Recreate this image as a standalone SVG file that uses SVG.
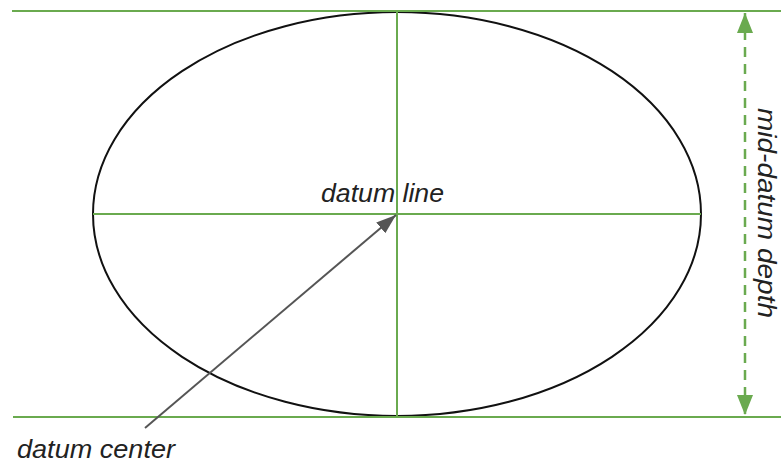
<svg xmlns="http://www.w3.org/2000/svg" width="781" height="463" viewBox="0 0 781 463">
<style>
.g{stroke:#6aaa4f;stroke-width:2;fill:none}
.t{font-family:"Liberation Sans",Arial,sans-serif;font-style:italic;font-size:26px;fill:#222}
</style>
<defs>
<marker id="ga" viewBox="0 0 20 16" refX="20" refY="8" markerWidth="20" markerHeight="16" markerUnits="userSpaceOnUse" orient="auto-start-reverse"><path d="M0,0 L20,8 L0,16 z" fill="#6aaa4f"/></marker>
<marker id="ka" viewBox="0 0 20 14" refX="20" refY="7" markerWidth="20" markerHeight="14" markerUnits="userSpaceOnUse" orient="auto"><path d="M0,0 L20,7 L0,14 z" fill="#555"/></marker>
</defs>
<g id="ellipse"><ellipse cx="397" cy="214" rx="304" ry="202" fill="none" stroke="#111" stroke-width="2"/></g>
<g id="guides">
<line class="g" x1="12" y1="11" x2="781" y2="11"/>
<line class="g" x1="13" y1="417" x2="781" y2="417"/>
<line class="g" x1="397" y1="12" x2="397" y2="416"/>
<line class="g" x1="93" y1="214" x2="701" y2="214"/>
</g>
<g id="connectors">
<line x1="745" y1="13" x2="745" y2="415" stroke="#6aaa4f" stroke-width="2.5" stroke-dasharray="10,7" marker-start="url(#ga)" marker-end="url(#ga)"/>
<line x1="145" y1="428" x2="396" y2="215" stroke="#555" stroke-width="2" marker-end="url(#ka)"/>
</g>
<g id="labels">
<text class="t" x="321" y="202" textLength="123" lengthAdjust="spacingAndGlyphs">datum line</text>
<text class="t" x="17" y="458" textLength="158" lengthAdjust="spacingAndGlyphs">datum center</text>
<text class="t" style="font-size:25px" transform="translate(758,213) rotate(90)" text-anchor="middle" textLength="210" lengthAdjust="spacingAndGlyphs">mid-datum depth</text>
</g>
</svg>
